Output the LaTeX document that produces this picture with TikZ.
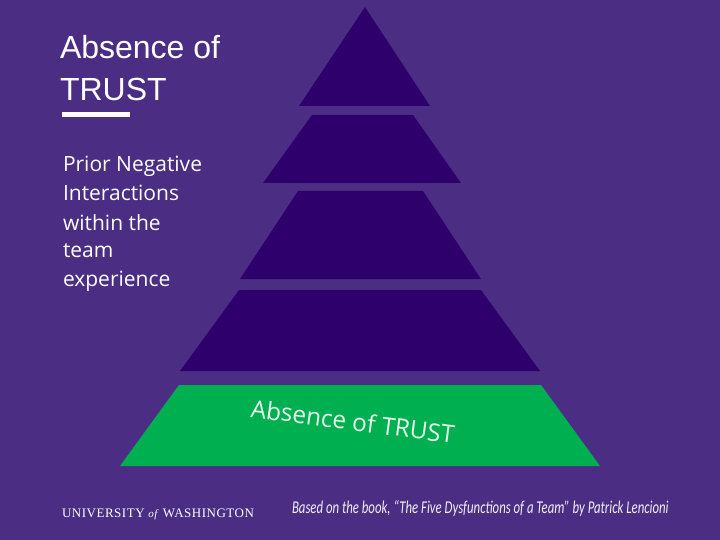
\documentclass[tikz,border=0pt]{standalone}
\usepackage{fontspec}
\setmainfont{Liberation Sans}
\newfontfamily\bodyfont{Open Sans}
\newfontfamily\notefont{Carlito}
\newfontfamily\logofont[LetterSpace=4]{Liberation Serif}
\definecolor{bgpurple}{HTML}{4B2E83}
\definecolor{darkpurple}{HTML}{2E006C}
\definecolor{tiergreen}{HTML}{00B050}
\tikzset{
  px/.style={x=1pt,y=-1pt},
  tier/.style={fill=darkpurple,draw=none},
  label/.style={inner sep=0pt,outer sep=0pt,text=white},
}
\begin{document}
\begin{tikzpicture}[px]
\path[use as bounding box,fill=bgpurple] (0,0) rectangle (720,540);
\fill[tier] (365,7) -- (430,106) -- (299,106) -- cycle;
\fill[tier] (312,115) -- (413,115) -- (461,183) -- (263,183) -- cycle;
\fill[tier] (298,191) -- (423,191) -- (481,279) -- (240,279) -- cycle;
\fill[tier] (239,290) -- (481,290) -- (540,371) -- (180,371) -- cycle;
\fill[tiergreen] (179,385) -- (541,385) -- (600,466) -- (120,466) -- cycle;
\node[label,anchor=base west] (t1) at (60,59) {\fontsize{32}{32}\selectfont Absence of};
\node[label,anchor=base west] (t2) at (60,101) {\fontsize{32}{32}\selectfont TRUST};
\fill[white] (62,112) rectangle (130,117);
\node[label,anchor=base west] (b1) at (63,172) {\fontsize{21}{21}\selectfont\bodyfont Prior Negative};
\node[label,anchor=base west] (b2) at (63,201) {\fontsize{21}{21}\selectfont\bodyfont Interactions};
\node[label,anchor=base west] (b3) at (63,230) {\fontsize{21}{21}\selectfont\bodyfont within the};
\node[label,anchor=base west] (b4) at (63,258) {\fontsize{21}{21}\selectfont\bodyfont team};
\node[label,anchor=base west] (b5) at (63,286) {\fontsize{21}{21}\selectfont\bodyfont experience};
\node[label,anchor=base west,rotate=-7.5,text=white!90!tiergreen] (g) at (250,417) {\fontsize{24.4}{24.4}\selectfont\bodyfont Absence of TRUST};
\node[label,anchor=base west] (uw) at (62,517) {\fontsize{13}{13}\selectfont\logofont UNIVERSITY \textit{\fontsize{11}{11}\selectfont of} WASHINGTON};
\node[label,anchor=base west,text=white!92!bgpurple] (src) at (292,513) {\scalebox{0.71}[1]{\fontsize{18}{18}\selectfont\notefont\itshape Based on the book, “The Five Dysfunctions of a Team” by Patrick Lencioni}};
\end{tikzpicture}
\end{document}
